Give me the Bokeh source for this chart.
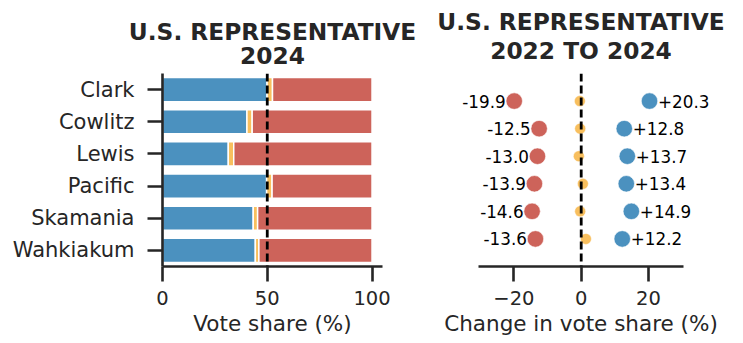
from bokeh.plotting import figure
from bokeh.layouts import row
from bokeh.models import Range1d, FactorRange, Span, ColumnDataSource, FixedTicker, LabelSet, Title
from bokeh.core.properties import value
from bokeh.embed import file_html
from bokeh.resources import INLINE

# ---- data ----
counties = ["Clark", "Cowlitz", "Lewis", "Pacific", "Skamania", "Wahkiakum"]
dem_share = [49.9, 40.3, 31.4, 49.7, 43.3, 44.3]
oth_share = [2.6, 2.5, 2.6, 2.6, 2.1, 1.7]
rep_share = [47.5, 57.2, 66.0, 47.7, 54.6, 54.0]

dem_change = [20.3, 12.8, 13.7, 13.4, 14.9, 12.2]
rep_change = [-19.9, -12.5, -13.0, -13.9, -14.6, -13.6]
oth_change = [-0.4, -0.3, -0.7, 0.5, -0.3, 1.4]

left_ticks = [0, 50, 100]
right_ticks = [-20, 0, 20]
right_tick_labels = ["\u221220", "0", "20"]

title_left = ["U.S. REPRESENTATIVE", "2024"]
title_right = ["U.S. REPRESENTATIVE", "2022 TO 2024"]
xlabel_left = "Vote share (%)"
xlabel_right = "Change in vote share (%)"

# ---- style ----
BLUE = "#4b91bf"
RED = "#cd635a"
ORANGE = "#f8bf5e"
INK = "#262626"
FONT = "DejaVu Sans"
TITLE_SIZE = "23.3px"


def add_titles(p, lines):
    # p.title ends up outermost; the added Title sits next to the frame
    p.title.text = lines[0]
    p.title.align = "center"
    p.title.standoff = -20
    p.title.text_font = FONT
    p.title.text_font_size = TITLE_SIZE
    p.title.text_font_style = "bold"
    p.title.text_color = INK
    t2 = Title(text=lines[1], align="center", standoff=20,
               text_font=FONT, text_font_size=TITLE_SIZE, text_font_style="bold",
               text_color=INK)
    p.add_layout(t2, "above")


def style(p):
    p.outline_line_color = None
    p.xgrid.visible = False
    p.ygrid.visible = False
    for ax in p.axis:
        ax.axis_line_color = INK
        ax.axis_line_width = 2.6
        ax.major_tick_line_color = INK
        ax.major_tick_line_width = 2.6
        ax.major_tick_out = 15
        ax.major_tick_in = 0
        ax.minor_tick_line_color = None
        ax.major_label_text_font = FONT
        ax.major_label_text_color = INK
        ax.axis_label_text_font = FONT
        ax.axis_label_text_font_style = "normal"
        ax.axis_label_text_color = INK
        ax.axis_label_text_font_size = "21.5px"
    p.xaxis.major_label_text_font_size = "19.5px"
    p.xaxis.major_label_standoff = 9
    p.xaxis.axis_label_standoff = 3


# ---- left panel ----
p1 = figure(width=420, height=341,
            x_range=Range1d(0, 105), y_range=FactorRange(*reversed(counties)),
            output_backend="svg", toolbar_location=None,
            min_border_left=162, min_border_right=38,
            min_border_top=73, min_border_bottom=75)
style(p1)
add_titles(p1, title_left)
src1 = ColumnDataSource(dict(county=counties, dem=dem_share, oth=oth_share, rep=rep_share))
p1.hbar_stack(["dem", "oth", "rep"], y="county", height=0.75, source=src1,
              fill_color=[BLUE, ORANGE, RED], line_color="white", line_width=1.5)
p1.add_layout(Span(location=50, dimension="height", line_color="black",
                   line_width=2.8, line_dash="8 4"))
p1.xaxis.ticker = FixedTicker(ticks=left_ticks)
p1.xaxis.axis_label = xlabel_left
p1.yaxis.major_label_text_font_size = "21px"
p1.yaxis.major_label_standoff = 13

# ---- right panel ----
rows = list(range(len(counties)))
src2 = ColumnDataSource(dict(
    row=rows, dem=dem_change, rep=rep_change, oth=oth_change,
    dem_lbl=[f"{v:+.1f}" for v in dem_change],
    rep_lbl=[f"{v:+.1f}" for v in rep_change],
))
p2 = figure(width=323, height=341,
            x_range=Range1d(-47.46, 47.34), y_range=Range1d(6, -1),
            output_backend="svg", toolbar_location=None,
            min_border_left=1, min_border_right=3,
            min_border_top=73, min_border_bottom=75)
style(p2)
add_titles(p2, title_right)
p2.yaxis.visible = False
p2.xaxis.bounds = (-30.6, 30.3)
p2.scatter("rep", "row", source=src2, size=16.5, fill_color=RED, line_color="white", line_width=0.6)
p2.scatter("dem", "row", source=src2, size=16.5, fill_color=BLUE, line_color="white", line_width=0.6)
p2.scatter("oth", "row", source=src2, size=11, fill_color=ORANGE, line_color="white", line_width=0.5)
p2.add_layout(Span(location=0, dimension="height", line_color="black",
                   line_width=2.8, line_dash="8 4"))
lbl_kw = dict(source=src2, y="row", text_baseline="middle", text_font=value(FONT),
              text_font_size="16.8px", text_color="black")
p2.add_layout(LabelSet(x="rep", text="rep_lbl", x_offset=-8.5, text_align="right", **lbl_kw))
p2.add_layout(LabelSet(x="dem", text="dem_lbl", x_offset=8.5, text_align="left", **lbl_kw))
p2.xaxis.ticker = FixedTicker(ticks=right_ticks)
p2.xaxis.major_label_overrides = dict(zip(right_ticks, right_tick_labels))
p2.xaxis.axis_label = xlabel_right

layout = row(p1, p2)
open("out.html", "w").write(file_html(layout, INLINE))
